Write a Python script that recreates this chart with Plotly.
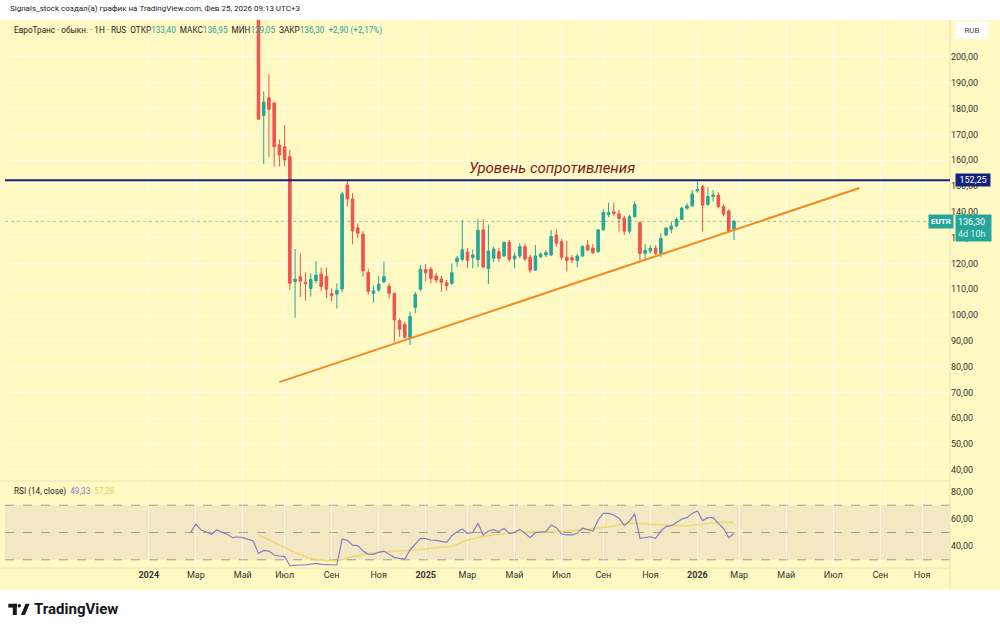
import pandas as pd
import plotly.graph_objects as go

# ---------------- data (weekly candles, EUTR) ----------------
first_week = "2024-05-27"
opens = [228.0, 177.3, 184.2, 182.1, 165.9, 165.2, 161.4, 113.0, 114.8, 112.7,
         110.3, 113.3, 115.9, 114.9, 108.3, 108.1, 110.1, 150.4, 145.0, 133.8,
         131.3, 116.5, 108.4, 109.7, 112.9, 111.2, 108.4, 97.8, 96.4, 91.4,
         103.0, 110.0, 117.7, 117.8, 115.1, 114.0, 112.5, 112.3, 120.7, 121.5,
         124.4, 122.3, 121.5, 133.0, 118.0, 122.0, 124.6, 122.9, 128.2, 121.7,
         122.9, 126.5, 122.4, 117.4, 122.6, 123.3, 123.3, 131.0, 128.4, 122.4,
         122.2, 121.1, 122.9, 127.1, 125.9, 124.6, 133.0, 139.0, 140.0, 139.2,
         137.6, 132.5, 138.1, 135.8, 123.9, 124.8, 125.9, 123.9, 131.0, 133.2,
         134.5, 137.1, 141.4, 142.3, 148.1, 149.8, 142.9, 145.9, 146.5, 142.0,
         140.3, 133.40]
highs = [232.0, 186.6, 193.3, 182.7, 168.0, 173.6, 164.0, 125.6, 123.9, 116.5,
         116.2, 120.9, 118.4, 118.4, 110.3, 112.3, 147.8, 152.3, 147.3, 135.5,
         132.6, 118.0, 111.6, 115.1, 120.7, 112.3, 108.7, 98.7, 97.4, 101.3,
         109.0, 119.4, 119.7, 118.7, 116.2, 115.1, 113.6, 120.0, 122.9, 136.8,
         125.9, 125.4, 137.1, 137.1, 135.0, 126.5, 126.0, 128.4, 129.1, 124.2,
         127.8, 127.5, 123.3, 127.1, 124.2, 125.2, 133.0, 133.2, 129.5, 128.8,
         123.3, 123.6, 127.1, 129.1, 127.5, 133.2, 141.0, 143.5, 143.6, 140.7,
         138.5, 138.8, 144.0, 136.3, 127.5, 127.0, 127.0, 131.7, 134.2, 136.0,
         137.8, 142.0, 143.3, 148.4, 151.8, 150.4, 149.5, 148.5, 147.5, 143.0,
         141.0, 136.95]
lows = [175.5, 158.5, 161.2, 157.5, 157.5, 157.5, 109.7, 99.0, 107.0, 105.6,
        107.1, 112.3, 109.3, 106.5, 105.2, 102.6, 108.8, 142.0, 127.4, 129.7,
        114.9, 107.8, 104.8, 109.0, 112.3, 106.5, 89.5, 91.6, 91.0, 88.4,
        100.7, 109.4, 112.9, 112.3, 112.5, 109.0, 109.4, 111.6, 118.7, 120.7,
        118.1, 118.1, 118.5, 118.1, 112.0, 120.5, 120.7, 122.5, 120.7, 118.1,
        122.0, 121.0, 116.4, 117.2, 122.0, 122.4, 122.9, 126.5, 121.3, 116.8,
        120.0, 118.5, 122.5, 124.8, 123.6, 124.0, 132.7, 137.9, 138.5, 132.3,
        131.0, 131.5, 137.8, 120.7, 121.3, 123.8, 123.3, 122.4, 130.5, 131.7,
        134.0, 136.8, 140.8, 142.0, 147.4, 132.3, 142.3, 144.0, 141.3, 138.3,
        132.3, 129.05]
closes = [175.9, 182.5, 179.7, 165.2, 162.0, 160.1, 112.3, 113.9, 113.2, 112.1,
          113.8, 115.5, 111.1, 110.0, 107.5, 109.6, 146.9, 145.0, 132.6, 131.7,
          117.1, 109.2, 109.4, 112.0, 114.9, 108.4, 98.1, 94.5, 91.4, 99.5,
          108.0, 117.7, 116.4, 114.2, 113.6, 112.7, 111.4, 116.4, 122.0, 125.3,
          121.2, 123.3, 132.8, 118.6, 124.8, 125.6, 122.0, 128.2, 121.6, 122.9,
          126.5, 121.7, 117.4, 122.9, 123.6, 124.2, 130.4, 127.8, 122.4, 121.1,
          121.3, 122.9, 126.5, 125.2, 124.2, 133.0, 139.7, 139.7, 139.3, 137.4,
          132.5, 138.1, 142.8, 123.9, 125.0, 125.9, 123.9, 129.7, 133.6, 134.5,
          137.1, 141.4, 142.3, 146.9, 148.7, 142.6, 145.9, 146.5, 142.0, 139.1,
          132.6, 136.30]

# RSI (14, close), weekly, starting week
rsi_start = "2024-02-26"
rsi_values = [49.9, 56.2, 51.8, 50.6, 48.7, 51.8, 50.1, 48.7, 46.2, 46.7,
              46.2, 45.2, 43.8, 34.7, 36.9, 36.4, 33.5, 32.8, 32.3, 25.7,
              26.2, 26.2, 26.2, 26.7, 27.4, 26.7, 26.7, 26.4, 26.2, 45.2,
              44.3, 40.8, 40.4, 36.4, 34.2, 34.0, 35.5, 36.4, 34.2, 31.6,
              31.1, 30.6, 37.2, 41.3, 45.7, 45.5, 44.5, 44.3, 43.8, 42.8,
              47.7, 50.5, 52.6, 49.4, 50.1, 56.7, 48.2, 51.1, 52.1, 50.6,
              53.1, 49.4, 50.1, 52.3, 49.4, 46.2, 49.9, 50.4, 50.6, 55.5,
              53.5, 48.9, 48.2, 48.2, 49.4, 53.1, 52.3, 51.1, 59.2, 64.0,
              64.0, 62.8, 60.4, 55.0, 58.4, 63.6, 45.7, 46.2, 46.9, 45.7,
              51.1, 54.3, 55.0, 57.4, 59.9, 60.9, 64.0, 65.8, 58.7, 60.9,
              60.9, 56.7, 53.1, 46.2, 49.33]
# RSI-based moving average, read at selected weeks (week index from rsi_start)
rsi_ma_weeks = [13, 17, 22, 25, 28, 31, 36, 43, 48, 50, 53, 57, 62, 69, 75, 80, 84, 88, 94, 98, 101, 104]
rsi_ma_values = [48.2, 40.8, 32.3, 29.9, 29.4, 32.3, 35.5, 37.2, 39.2, 40.0, 44.5, 47.7,
                 49.9, 50.6, 52.1, 54.3, 56.7, 56.0, 55.0, 56.0, 57.4, 57.28]

resistance_level = 152.25
trend_dates = ["2024-06-24", "2026-08-10"]
trend_values = [74.0, 149.2]
last_price = 136.30

tick_dates = ["2024-01-01", "2024-03-04", "2024-05-06", "2024-07-01", "2024-09-02", "2024-11-04",
              "2025-01-06", "2025-03-03", "2025-05-05", "2025-07-07", "2025-09-01", "2025-11-03",
              "2026-01-05", "2026-03-02", "2026-05-04", "2026-07-06", "2026-09-07", "2026-11-02"]
tick_labels = ["<b>2024</b>", "Мар", "Май", "Июл", "Сен", "Ноя",
               "<b>2025</b>", "Мар", "Май", "Июл", "Сен", "Ноя",
               "<b>2026</b>", "Мар", "Май", "Июл", "Сен", "Ноя"]
price_ticks = [40, 50, 60, 70, 80, 90, 100, 110, 120, 130, 140, 150, 160, 170, 180, 190, 200]
rsi_ticks = [40, 60, 80]

# ---------------- layout helpers ----------------
W, H = 1000, 630
ML, MR, MT, MB = 5, 50, 20, 40
PW, PH = W - ML - MR, H - MT - MB


def px(x):
    return (x - ML) / PW


def py(y):
    return (H - MB - y) / PH


candle_dates = pd.date_range(first_week, periods=len(opens), freq="7D")
rsi_dates = pd.date_range(rsi_start, periods=len(rsi_values), freq="7D")
ma_dates = [pd.Timestamp(rsi_start) + pd.Timedelta(days=7 * w) for w in rsi_ma_weeks]

px_per_day = 475.5 / 637.0
anchor = pd.Timestamp(first_week)
x_start = anchor - pd.Timedelta(days=(258.5 - ML) / px_per_day)
x_end = anchor + pd.Timedelta(days=(W - MR - 258.5) / px_per_day)

FONT = "Roboto, 'Liberation Sans', Arial, sans-serif"
BG = "#FFF9C4"
GRID = "rgba(255,255,255,0.55)"
UP = "#26A69A"
DN = "#EF5350"

fig = go.Figure()

fig.add_trace(go.Candlestick(
    x=candle_dates, open=opens, high=highs, low=lows, close=closes,
    increasing=dict(line=dict(color=UP, width=1), fillcolor=UP),
    decreasing=dict(line=dict(color=DN, width=1), fillcolor=DN),
    whiskerwidth=0, hoverinfo="skip", showlegend=False, xaxis="x", yaxis="y"))

fig.add_trace(go.Scatter(
    x=ma_dates, y=rsi_ma_values, mode="lines", line=dict(color="#F2D66E", width=1.5, shape="spline"),
    hoverinfo="skip", showlegend=False, xaxis="x2", yaxis="y2"))
fig.add_trace(go.Scatter(
    x=rsi_dates, y=rsi_values, mode="lines", line=dict(color="#8C7BC0", width=1.2),
    hoverinfo="skip", showlegend=False, xaxis="x2", yaxis="y2"))

shapes = [
    # chart panel background
    dict(type="rect", xref="paper", yref="paper", x0=px(0), x1=px(W), y0=py(590), y1=py(20),
         fillcolor=BG, line=dict(width=0), layer="below"),
    # RSI band
    dict(type="rect", xref="paper", yref="y2", x0=0, x1=1, y0=30, y1=70,
         fillcolor="rgba(126,87,194,0.10)", line=dict(width=0), layer="below"),
    # pane separator
    dict(type="line", xref="paper", yref="paper", x0=px(0), x1=1, y0=py(481), y1=py(481),
         line=dict(color="#EDE3B0", width=1)),
    # right axis separator
    dict(type="line", xref="paper", yref="paper", x0=1, x1=1, y0=py(590), y1=py(20),
         line=dict(color="#EDE3B0", width=1)),
    # time axis separator
    dict(type="line", xref="paper", yref="paper", x0=px(0), x1=1, y0=py(568), y1=py(568),
         line=dict(color="#EDE3B0", width=1)),
    # last price dotted line
    dict(type="line", xref="paper", yref="y", x0=0, x1=1, y0=last_price, y1=last_price,
         line=dict(color="rgba(38,166,154,0.55)", width=1, dash="dot")),
    # resistance line
    dict(type="line", xref="paper", yref="y", x0=0, x1=1, y0=resistance_level, y1=resistance_level,
         line=dict(color="#16237A", width=2)),
    # trend line
    dict(type="line", xref="x", yref="y", x0=trend_dates[0], x1=trend_dates[1],
         y0=trend_values[0], y1=trend_values[1], line=dict(color="#F5891F", width=2)),
]
for lvl in (70, 50, 30):
    shapes.append(dict(type="line", xref="paper", yref="y2", x0=0, x1=1, y0=lvl, y1=lvl,
                       line=dict(color="#A09D92", width=1, dash="dash"), layer="below"))

# TradingView logo glyph
shapes += [
    dict(type="rect", xref="paper", yref="paper", x0=px(8.3), x1=px(16.8), y0=py(607.6), y1=py(603.8),
         fillcolor="#131722", line=dict(width=0)),
    dict(type="rect", xref="paper", yref="paper", x0=px(12.8), x1=px(16.8), y0=py(615), y1=py(603.8),
         fillcolor="#131722", line=dict(width=0)),
    dict(type="circle", xref="paper", yref="paper", x0=px(17.6), x1=px(21.0), y0=py(607.4), y1=py(604.0),
         fillcolor="#131722", line=dict(width=0)),
    dict(type="path", xref="paper", yref="paper",
         path=f"M {px(21.0)} {py(615)} L {px(25.5)} {py(603.8)} L {px(29.6)} {py(603.8)} L {px(25.0)} {py(615)} Z",
         fillcolor="#131722", line=dict(width=0)),
]

val = "color:#26A69A"
legend_text = ("ЕвроТранс · обыкн. · 1H · RUS\u00a0\u00a0ОТКР<span style='%s'>133,40</span>"
               "\u00a0\u00a0МАКС<span style='%s'>136,95</span>\u00a0\u00a0МИН<span style='%s'>129,05</span>"
               "\u00a0\u00a0ЗАКР<span style='%s'>136,30</span>\u00a0\u00a0<span style='%s'>+2,90 (+2,17%%)</span>"
               % (val, val, val, val, val))

annotations = [
    dict(xref="paper", yref="paper", x=px(8), y=py(9), xanchor="left", yanchor="middle",
         text="Signals_stock создал(а) график на TradingView.com, Фев 25, 2026 09:13 UTC+3",
         showarrow=False, font=dict(size=8, color="#222", family=FONT)),
    dict(xref="paper", yref="paper", x=px(12), y=py(30), xanchor="left", yanchor="middle",
         text=legend_text, showarrow=False, font=dict(size=8.2, color="#222", family=FONT)),
    dict(xref="paper", yref="paper", x=px(12), y=py(491), xanchor="left", yanchor="middle",
         text="RSI (14, close)\u00a0\u00a0<span style='color:#8C7BC0'>49,33</span>\u00a0\u00a0<span style='color:#E8CF60'>57,28</span>",
         showarrow=False, font=dict(size=8.2, color="#222", family=FONT)),
    dict(xref="x", yref="y", x="2025-06-24", y=157.0, xanchor="center", yanchor="middle",
         text="<i>Уровень сопротивления</i>", showarrow=False,
         font=dict(size=15, color="#7E1B1B", family=FONT)),
    dict(xref="paper", yref="paper", x=px(955), y=py(30), xanchor="left", yanchor="middle",
         text="RUB", showarrow=False, bgcolor="#FFFFFF", width=30, height=14, borderpad=1,
         font=dict(size=8, color="#444", family=FONT)),
    dict(xref="paper", yref="y", x=px(955), y=resistance_level, xanchor="left", yanchor="middle",
         text="152,25", showarrow=False, bgcolor="#16237A", width=32, borderpad=1,
         font=dict(size=9, color="#FFFFFF", family=FONT)),
    dict(xref="paper", yref="y", x=px(954), y=last_price, xanchor="right", yanchor="middle",
         text="<b>EUTR</b>", showarrow=False, bgcolor=UP, borderpad=2,
         font=dict(size=8, color="#FFFFFF", family=FONT)),
    dict(xref="paper", yref="y", x=px(955), y=last_price, xanchor="left", yanchor="top",
         text="136,30<br><span style='color:#D8F2EE'>4d 10h</span>", showarrow=False, bgcolor=UP,
         borderpad=2, align="left", yshift=7, width=31,
         font=dict(size=9, color="#FFFFFF", family=FONT)),
    dict(xref="paper", yref="paper", x=px(32), y=py(609), xanchor="left", yanchor="middle",
         text="<b>TradingView</b>", showarrow=False,
         font=dict(size=15, color="#131722", family=FONT)),
]

fig.update_layout(
    width=W, height=H,
    margin=dict(l=ML, r=MR, t=MT, b=MB, pad=0),
    paper_bgcolor="#FFFFFF", plot_bgcolor="rgba(0,0,0,0)",
    separators=", ",
    font=dict(family=FONT, size=9, color="#333"),
    showlegend=False,
    hovermode=False,
    xaxis=dict(type="date", domain=[0, 1], anchor="y", range=[x_start, x_end],
               tickvals=tick_dates, showticklabels=False, ticks="",
               showgrid=True, gridcolor=GRID, gridwidth=1, zeroline=False,
               rangeslider=dict(visible=False), fixedrange=True),
    xaxis2=dict(type="date", domain=[0, 1], anchor="y2", matches="x", range=[x_start, x_end],
                tickvals=tick_dates, ticktext=tick_labels, ticks="",
                tickfont=dict(size=9, color="#333", family=FONT),
                showgrid=True, gridcolor=GRID, gridwidth=1, zeroline=False,
                rangeslider=dict(visible=False), fixedrange=True),
    yaxis=dict(domain=[py(480), 1], anchor="x", side="right", range=[36.1, 214.3],
               tickvals=price_ticks, tickformat=".2f", ticks="",
               tickfont=dict(size=9, color="#333", family=FONT),
               showgrid=True, gridcolor=GRID, gridwidth=1, zeroline=False, fixedrange=True),
    yaxis2=dict(domain=[py(568), py(482)], anchor="x2", side="right", range=[24.0, 87.0],
                tickvals=rsi_ticks, tickformat=".2f", ticks="",
                tickfont=dict(size=9, color="#333", family=FONT),
                showgrid=False, zeroline=False, fixedrange=True),
    shapes=shapes,
    annotations=annotations,
)

fig.write_html("out.html")
